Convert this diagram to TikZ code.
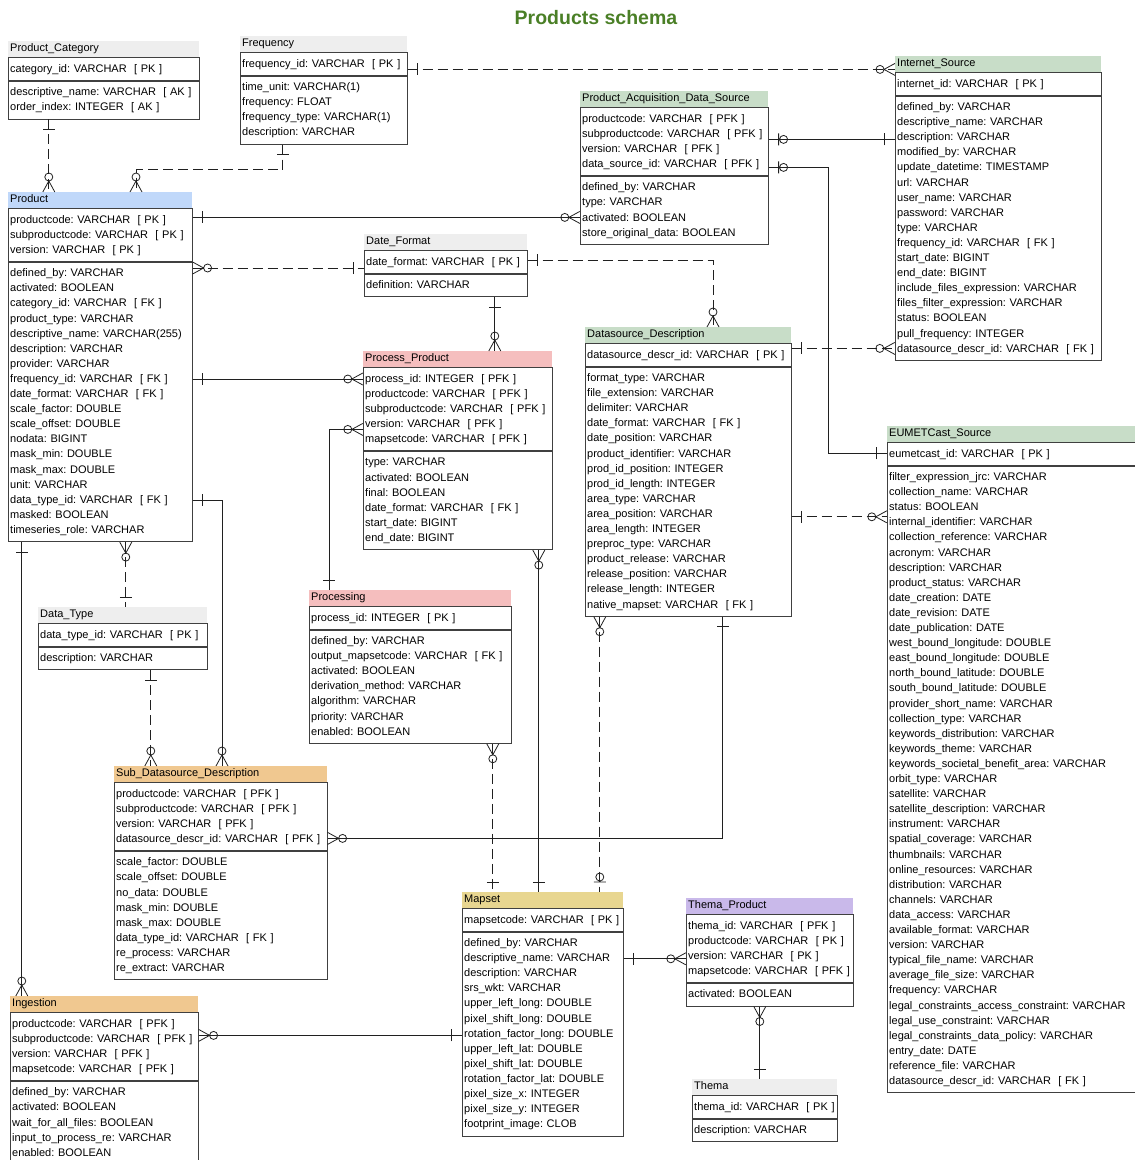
\documentclass[tikz,border=0pt]{standalone}
\usepackage{fontspec}
\setmainfont{Liberation Sans}
\usetikzlibrary{positioning, calc}
\definecolor{hdgray}{HTML}{EEEEEE}
\definecolor{hdblue}{HTML}{C0D8FA}
\definecolor{hdpink}{HTML}{F5BEBE}
\definecolor{hdgreen}{HTML}{C8DDC8}
\definecolor{hdorange}{HTML}{F0C890}
\definecolor{hdkhaki}{HTML}{E8D690}
\definecolor{hdlilac}{HTML}{C9B9EA}
\definecolor{ttlgreen}{HTML}{4A7F26}
\definecolor{boxline}{HTML}{404040}
\definecolor{relline}{HTML}{202020}
\newcommand{\kt}[1]{\ \ [ #1 ]}

\begin{document}
\begin{tikzpicture}[
  x=1pt, y=-1pt,
  every node/.style={font=\fontsize{11}{15.1}\selectfont\frenchspacing, text=black},
  tname/.style={anchor=north west, inner xsep=2pt, inner ysep=0pt, minimum height=16pt, text height=8pt, text depth=3pt, align=left},
  tsec/.style={draw=boxline, line width=0.8pt, fill=white, align=left, inner xsep=2pt, inner ysep=0pt,
    minimum height=#1*15.1pt+7.5pt, execute at begin node=\strut, execute at end node=\strut},
  rel/.style={draw=relline, line width=0.8pt},
  nid/.style={rel, dash pattern=on 10pt off 5pt},
  one/.pic={\draw[rel, solid] (10,-6) -- (10,6);},
  zone/.pic={\draw[rel, solid] (10,-6) -- (10,6) (15,0) circle[radius=4pt];},
  crow/.pic={\draw[rel, solid] (0,-6) -- (11,0) -- (0,6) (15,0) circle[radius=4pt];},
]

\useasboundingbox (0,0) rectangle (1135,1160);

% Title
\node[font=\fontsize{19.5}{22}\selectfont\bfseries, text=ttlgreen] (title) at (596,18) {Products schema};

% Product_Category
\node[tname, fill=hdgray, text width=187pt] (pc) at (8,41) {Product\_Category};
\node[tsec=1, text width=187pt, below=0pt of pc] (pc-pk) {category\_id: VARCHAR\kt{PK}};
\node[tsec=2, text width=187pt, below=0pt of pc-pk] (pc-at) {descriptive\_name: VARCHAR\kt{AK}\\
  order\_index: INTEGER\kt{AK}};

% Frequency
\node[tname, fill=hdgray, text width=163pt] (freq) at (240,36) {Frequency};
\node[tsec=1, text width=163pt, below=0pt of freq] (freq-pk) {frequency\_id: VARCHAR\kt{PK}};
\node[tsec=4, text width=163pt, below=0pt of freq-pk] (freq-at) {time\_unit: VARCHAR(1)\\
  frequency: FLOAT\\ frequency\_type: VARCHAR(1)\\ description: VARCHAR};

% Product
\node[tname, fill=hdblue, text width=180pt] (prod) at (8,192) {Product};
\node[tsec=3, text width=180pt, below=0pt of prod] (prod-pk) {productcode: VARCHAR\kt{PK}\\
  subproductcode: VARCHAR\kt{PK}\\ version: VARCHAR\kt{PK}};
\node[tsec=18, text width=180pt, below=0pt of prod-pk] (prod-at) {defined\_by: VARCHAR\\
  activated: BOOLEAN\\ category\_id: VARCHAR\kt{FK}\\ product\_type: VARCHAR\\
  descriptive\_name: VARCHAR(255)\\ description: VARCHAR\\ provider: VARCHAR\\
  frequency\_id: VARCHAR\kt{FK}\\ date\_format: VARCHAR\kt{FK}\\ scale\_factor: DOUBLE\\
  scale\_offset: DOUBLE\\ nodata: BIGINT\\ mask\_min: DOUBLE\\ mask\_max: DOUBLE\\
  unit: VARCHAR\\ data\_type\_id: VARCHAR\kt{FK}\\ masked: BOOLEAN\\ timeseries\_role: VARCHAR};

% Date_Format
\node[tname, fill=hdgray, text width=159pt] (df) at (364,234) {Date\_Format};
\node[tsec=1, text width=159pt, below=0pt of df] (df-pk) {date\_format: VARCHAR\kt{PK}};
\node[tsec=1, text width=159pt, below=0pt of df-pk] (df-at) {definition: VARCHAR};

% Process_Product
\node[tname, fill=hdpink, text width=185pt] (pp) at (363,351) {Process\_Product};
\node[tsec=5, text width=185pt, below=0pt of pp] (pp-pk) {process\_id: INTEGER\kt{PFK}\\
  productcode: VARCHAR\kt{PFK}\\ subproductcode: VARCHAR\kt{PFK}\\
  version: VARCHAR\kt{PFK}\\ mapsetcode: VARCHAR\kt{PFK}};
\node[tsec=6, text width=185pt, below=0pt of pp-pk] (pp-at) {type: VARCHAR\\
  activated: BOOLEAN\\ final: BOOLEAN\\ date\_format: VARCHAR\kt{FK}\\
  start\_date: BIGINT\\ end\_date: BIGINT};

% Processing
\node[tname, fill=hdpink, text width=198pt] (proc) at (309,590) {Processing};
\node[tsec=1, text width=198pt, below=0pt of proc] (proc-pk) {process\_id: INTEGER\kt{PK}};
\node[tsec=7, text width=198pt, below=0pt of proc-pk] (proc-at) {defined\_by: VARCHAR\\
  output\_mapsetcode: VARCHAR\kt{FK}\\ activated: BOOLEAN\\ derivation\_method: VARCHAR\\
  algorithm: VARCHAR\\ priority: VARCHAR\\ enabled: BOOLEAN};

% Data_Type
\node[tname, fill=hdgray, text width=165pt] (dt) at (38,607) {Data\_Type};
\node[tsec=1, text width=165pt, below=0pt of dt] (dt-pk) {data\_type\_id: VARCHAR\kt{PK}};
\node[tsec=1, text width=165pt, below=0pt of dt-pk] (dt-at) {description: VARCHAR};

% Sub_Datasource_Description
\node[tname, fill=hdorange, text width=209pt] (sdd) at (114,766) {Sub\_Datasource\_Description};
\node[tsec=4, text width=209pt, below=0pt of sdd] (sdd-pk) {productcode: VARCHAR\kt{PFK}\\
  subproductcode: VARCHAR\kt{PFK}\\ version: VARCHAR\kt{PFK}\\
  datasource\_descr\_id: VARCHAR\kt{PFK}};
\node[tsec=8, text width=209pt, below=0pt of sdd-pk] (sdd-at) {scale\_factor: DOUBLE\\
  scale\_offset: DOUBLE\\ no\_data: DOUBLE\\ mask\_min: DOUBLE\\ mask\_max: DOUBLE\\
  data\_type\_id: VARCHAR\kt{FK}\\ re\_process: VARCHAR\\ re\_extract: VARCHAR};

% Ingestion
\node[tname, fill=hdorange, text width=184pt] (ing) at (10,996) {Ingestion};
\node[tsec=4, text width=184pt, below=0pt of ing] (ing-pk) {productcode: VARCHAR\kt{PFK}\\
  subproductcode: VARCHAR\kt{PFK}\\ version: VARCHAR\kt{PFK}\\ mapsetcode: VARCHAR\kt{PFK}};
\node[tsec=5, text width=184pt, below=0pt of ing-pk] (ing-at) {defined\_by: VARCHAR\\
  activated: BOOLEAN\\ wait\_for\_all\_files: BOOLEAN\\ input\_to\_process\_re: VARCHAR\\
  enabled: BOOLEAN};

% Mapset
\node[tname, fill=hdkhaki, text width=157pt] (ms) at (462,892) {Mapset};
\node[tsec=1, text width=157pt, below=0pt of ms] (ms-pk) {mapsetcode: VARCHAR\kt{PK}};
\node[tsec=13, text width=157pt, below=0pt of ms-pk] (ms-at) {defined\_by: VARCHAR\\
  descriptive\_name: VARCHAR\\ description: VARCHAR\\ srs\_wkt: VARCHAR\\
  upper\_left\_long: DOUBLE\\ pixel\_shift\_long: DOUBLE\\ rotation\_factor\_long: DOUBLE\\
  upper\_left\_lat: DOUBLE\\ pixel\_shift\_lat: DOUBLE\\ rotation\_factor\_lat: DOUBLE\\
  pixel\_size\_x: INTEGER\\ pixel\_size\_y: INTEGER\\ footprint\_image: CLOB};

% Thema_Product
\node[tname, fill=hdlilac, text width=163pt] (tp) at (686,898) {Thema\_Product};
\node[tsec=4, text width=163pt, below=0pt of tp] (tp-pk) {thema\_id: VARCHAR\kt{PFK}\\
  productcode: VARCHAR\kt{PK}\\ version: VARCHAR\kt{PK}\\ mapsetcode: VARCHAR\kt{PFK}};
\node[tsec=1, text width=163pt, below=0pt of tp-pk] (tp-at) {activated: BOOLEAN};

% Thema
\node[tname, fill=hdgray, text width=141pt] (th) at (692,1079) {Thema};
\node[tsec=1, text width=141pt, below=0pt of th] (th-pk) {thema\_id: VARCHAR\kt{PK}};
\node[tsec=1, text width=141pt, below=0pt of th-pk] (th-at) {description: VARCHAR};

% Datasource_Description
\node[tname, fill=hdgreen, text width=202pt] (dd) at (585,327) {Datasource\_Description};
\node[tsec=1, text width=202pt, below=0pt of dd] (dd-pk) {datasource\_descr\_id: VARCHAR\kt{PK}};
\node[tsec=16, text width=202pt, below=0pt of dd-pk] (dd-at) {format\_type: VARCHAR\\
  file\_extension: VARCHAR\\ delimiter: VARCHAR\\ date\_format: VARCHAR\kt{FK}\\
  date\_position: VARCHAR\\ product\_identifier: VARCHAR\\ prod\_id\_position: INTEGER\\
  prod\_id\_length: INTEGER\\ area\_type: VARCHAR\\ area\_position: VARCHAR\\
  area\_length: INTEGER\\ preproc\_type: VARCHAR\\ product\_release: VARCHAR\\
  release\_position: VARCHAR\\ release\_length: INTEGER\\ native\_mapset: VARCHAR\kt{FK}};

% Product_Acquisition_Data_Source
\node[tname, fill=hdgreen, text width=184pt] (pads) at (580,91) {Product\_Acquisition\_Data\_Source};
\node[tsec=4, text width=184pt, below=0pt of pads] (pads-pk) {productcode: VARCHAR\kt{PFK}\\
  subproductcode: VARCHAR\kt{PFK}\\ version: VARCHAR\kt{PFK}\\ data\_source\_id: VARCHAR\kt{PFK}};
\node[tsec=4, text width=184pt, below=0pt of pads-pk] (pads-at) {defined\_by: VARCHAR\\
  type: VARCHAR\\ activated: BOOLEAN\\ store\_original\_data: BOOLEAN};

% Internet_Source
\node[tname, fill=hdgreen, text width=202pt] (is) at (895,56) {Internet\_Source};
\node[tsec=1, text width=202pt, below=0pt of is] (is-pk) {internet\_id: VARCHAR\kt{PK}};
\node[tsec=17, text width=202pt, below=0pt of is-pk] (is-at) {defined\_by: VARCHAR\\
  descriptive\_name: VARCHAR\\ description: VARCHAR\\ modified\_by: VARCHAR\\
  update\_datetime: TIMESTAMP\\ url: VARCHAR\\ user\_name: VARCHAR\\ password: VARCHAR\\
  type: VARCHAR\\ frequency\_id: VARCHAR\kt{FK}\\ start\_date: BIGINT\\ end\_date: BIGINT\\
  include\_files\_expression: VARCHAR\\ files\_filter\_expression: VARCHAR\\
  status: BOOLEAN\\ pull\_frequency: INTEGER\\ datasource\_descr\_id: VARCHAR\kt{FK}};

% EUMETCast_Source
\node[tname, fill=hdgreen, text width=252pt] (eum) at (887,426) {EUMETCast\_Source};
\node[tsec=1, text width=252pt, below=0pt of eum] (eum-pk) {eumetcast\_id: VARCHAR\kt{PK}};
\node[tsec=41, text width=252pt, below=0pt of eum-pk] (eum-at) {filter\_expression\_jrc: VARCHAR\\
  collection\_name: VARCHAR\\ status: BOOLEAN\\ internal\_identifier: VARCHAR\\
  collection\_reference: VARCHAR\\ acronym: VARCHAR\\ description: VARCHAR\\
  product\_status: VARCHAR\\ date\_creation: DATE\\ date\_revision: DATE\\
  date\_publication: DATE\\ west\_bound\_longitude: DOUBLE\\ east\_bound\_longitude: DOUBLE\\
  north\_bound\_latitude: DOUBLE\\ south\_bound\_latitude: DOUBLE\\
  provider\_short\_name: VARCHAR\\ collection\_type: VARCHAR\\ keywords\_distribution: VARCHAR\\
  keywords\_theme: VARCHAR\\ keywords\_societal\_benefit\_area: VARCHAR\\ orbit\_type: VARCHAR\\
  satellite: VARCHAR\\ satellite\_description: VARCHAR\\ instrument: VARCHAR\\
  spatial\_coverage: VARCHAR\\ thumbnails: VARCHAR\\ online\_resources: VARCHAR\\
  distribution: VARCHAR\\ channels: VARCHAR\\ data\_access: VARCHAR\\
  available\_format: VARCHAR\\ version: VARCHAR\\ typical\_file\_name: VARCHAR\\
  average\_file\_size: VARCHAR\\ frequency: VARCHAR\\
  legal\_constraints\_access\_constraint: VARCHAR\\ legal\_use\_constraint: VARCHAR\\
  legal\_constraints\_data\_policy: VARCHAR\\ entry\_date: DATE\\ reference\_file: VARCHAR\\
  datasource\_descr\_id: VARCHAR\kt{FK}};

% Relations (solid = identifying, dashed = non identifying)
\draw[nid] ($(pc-at.south west)+(41,0)$) coordinate (r1) pic[rotate=-90]{one} -- (r1 |- prod.north) pic[rotate=90]{crow};
\draw[nid] ($(freq-at.south west)+(43,0)$) pic[rotate=-90]{one} -- ++(0,25) -| ($(prod.north west)+(128,0)$) pic[rotate=90]{crow};
\draw[nid] ($(freq-pk.north east)+(0,17)$) coordinate (r3) pic{one} -- (r3 -| is.west) pic[rotate=180]{crow};
\draw[rel] ($(prod-pk.north east)+(0,9)$) coordinate (r4) pic{one} -- (r4 -| pads-at.west) pic[rotate=180]{crow};
\draw[nid] ($(prod-at.north east)+(0,6)$) coordinate (r5) pic{crow} -- (r5 -| df-pk.west) pic[rotate=180]{one};
\draw[nid] ($(df-pk.north east)+(0,10)$) pic{one} -| ($(dd.north west)+(128,0)$) pic[rotate=90]{crow};
\draw[rel] ($(df-at.south west)+(131,0)$) coordinate (r7) pic[rotate=-90]{one} -- (r7 |- pp.north) pic[rotate=90]{crow};
\draw[rel] ($(prod-at.north east)+(0,117)$) coordinate (r8) pic{one} -- (r8 -| pp-pk.west) pic[rotate=180]{crow};
\draw[rel] ($(proc.north west)+(20,0)$) pic[rotate=90]{one} |- ($(pp-pk.north west)+(0,62)$) pic[rotate=180]{crow};
\draw[rel] ($(prod-at.north east)+(0,238)$) pic{one} -| ($(sdd.north west)+(108,0)$) pic[rotate=90]{crow};
\draw[nid] ($(prod-at.south west)+(118,0)$) coordinate (r11) pic[rotate=-90]{crow} -- (r11 |- dt.north) pic[rotate=90]{one};
\draw[rel] ($(prod-at.south west)+(14,0)$) coordinate (r12) pic[rotate=-90]{one} -- (r12 |- ing.north) pic[rotate=90]{crow};
\draw[nid] ($(dt-at.south west)+(113,0)$) coordinate (r13) pic[rotate=-90]{one} -- (r13 |- sdd.north) pic[rotate=90]{crow};
\draw[rel] ($(pp-at.south west)+(176,0)$) coordinate (r14) pic[rotate=-90]{crow} -- (r14 |- ms.north) pic[rotate=90]{one};
\draw[nid] ($(proc-at.south west)+(184,0)$) coordinate (r15) pic[rotate=-90]{crow} -- (r15 |- ms.north) pic[rotate=90]{one};
\draw[nid] ($(dd-at.south west)+(15,0)$) coordinate (r16) pic[rotate=-90]{crow} -- (r16 |- ms.north) pic[rotate=90]{zone};
\draw[rel] ($(dd-at.south west)+(138,0)$) pic[rotate=-90]{one} |- ($(sdd-pk.north east)+(0,56)$) pic{crow};
\draw[rel] ($(pads-pk.north east)+(0,32)$) coordinate (r18) pic{zone} -- (r18 -| is-at.west) pic[rotate=180]{one};
\draw[rel] ($(pads-pk.north east)+(0,60)$) pic{zone} -- ++(60,0) |- ($(eum-pk.north west)+(0,11)$) pic[rotate=180]{one};
\draw[nid] ($(dd-pk.north east)+(0,5)$) coordinate (r20) pic{one} -- (r20 -| is-at.west) pic[rotate=180]{crow};
\draw[nid] ($(dd-at.north east)+(0,150)$) coordinate (r21) pic{one} -- (r21 -| eum-at.west) pic[rotate=180]{crow};
\draw[rel] ($(ms-at.north east)+(0,27)$) coordinate (r22) pic{one} -- (r22 -| tp-pk.west) pic[rotate=180]{crow};
\draw[rel] ($(tp-at.south west)+(74,0)$) coordinate (r23) pic[rotate=-90]{crow} -- (r23 |- th.north) pic[rotate=90]{one};
\draw[rel] ($(ing-pk.north east)+(0,23)$) coordinate (r24) pic{crow} -- (r24 -| ms-at.west) pic[rotate=180]{one};

\end{tikzpicture}
\end{document}
